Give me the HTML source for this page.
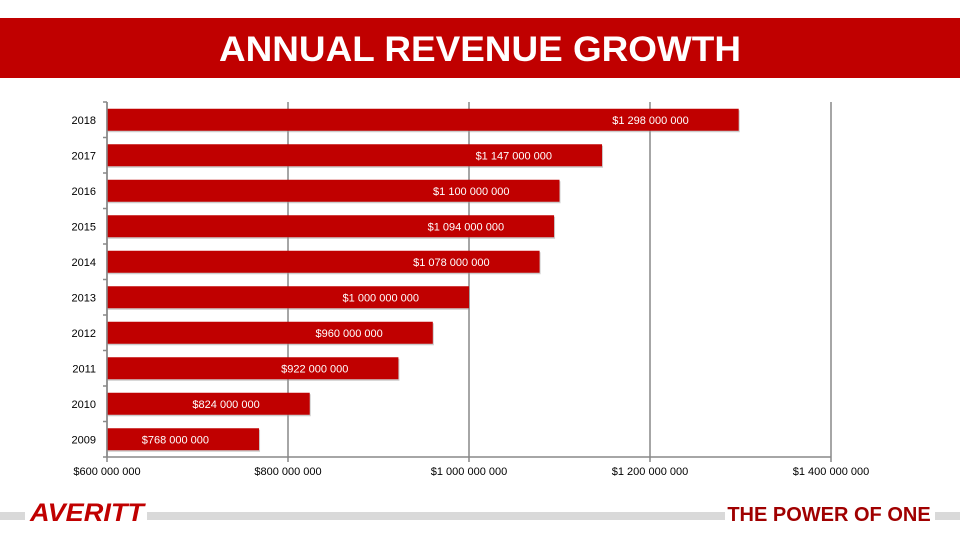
<!DOCTYPE html>
<html><head><meta charset="utf-8"><style>
body{margin:0;width:960px;height:540px;background:#fff;overflow:hidden;font-family:"Liberation Sans",sans-serif}
</style></head><body>
<svg width="960" height="540" xmlns="http://www.w3.org/2000/svg">
<rect x="0" y="18" width="960" height="60" fill="#c00000"/>
<text x="480" y="61" text-anchor="middle" fill="#fff" font-size="35" font-weight="bold" textLength="522" lengthAdjust="spacingAndGlyphs">ANNUAL REVENUE GROWTH</text>
<g id="chart"></g>
<rect x="0" y="512" width="25" height="8" fill="#d9d9d9"/>
<rect x="147" y="512" width="578" height="8" fill="#d9d9d9"/>
<rect x="935" y="512" width="25" height="8" fill="#d9d9d9"/>
<text x="30" y="521" fill="#c00000" font-size="25" font-weight="bold" font-style="italic" textLength="114" lengthAdjust="spacingAndGlyphs">AVERITT</text>
<text x="829" y="521" text-anchor="middle" fill="#a00000" font-size="20" font-weight="bold">THE POWER OF ONE</text>
</svg>
<script>
const years=["2018","2017","2016","2015","2014","2013","2012","2011","2010","2009"];
const revenues=[1298000000,1147000000,1100000000,1094000000,1078000000,1000000000,960000000,922000000,824000000,768000000];
const valueLabels=["$1 298 000 000","$1 147 000 000","$1 100 000 000","$1 094 000 000","$1 078 000 000","$1 000 000 000","$960 000 000","$922 000 000","$824 000 000","$768 000 000"];
const ticks=[600000000,800000000,1000000000,1200000000,1400000000];
const tickLabels=["$600 000 000","$800 000 000","$1 000 000 000","$1 200 000 000","$1 400 000 000"];
const NS="http://www.w3.org/2000/svg";
const g=document.getElementById('chart');
const x0=107,x1=831,yTop=102,yBot=457;
const xs=v=>x0+(v-ticks[0])/(ticks[ticks.length-1]-ticks[0])*(x1-x0);
const band=(yBot-yTop)/years.length;
function mk(t,a){const e=document.createElementNS(NS,t);for(const k in a)e.setAttribute(k,a[k]);g.appendChild(e);return e;}
ticks.forEach((t,i)=>{
 const l=mk('line',{x1:xs(t),x2:xs(t),y1:yTop,y2:yBot+5,stroke:'#888','stroke-width':1.5});
 
 
 const tx=mk('text',{x:xs(t),y:475,'text-anchor':'middle','font-size':11,fill:'#000'});
 tx.textContent=tickLabels[i];
 
 
});
const ax=mk('line',{x1:x0,x2:x1,y1:yBot,y2:yBot,stroke:'#888','stroke-width':1.5});


for(let i=0;i<=years.length;i++){
 const tk=mk('line',{x1:x0-4,x2:x0,y1:yTop+i*band,y2:yTop+i*band,stroke:'#888','stroke-width':1.5});
 
 
}
years.forEach((yr,i)=>{
 const cy=yTop+band*i+band/2;
 const w=xs(revenues[i])-x0;
 const sh=mk('rect',{x:x0+1,y:cy-11+1.5,width:w,height:22,fill:'#999',opacity:0.5});
 
 
 const b=mk('rect',{x:x0,y:cy-11,width:w,height:22,fill:'#c00000'});
 
 
 const lb=mk('text',{x:xs(revenues[i])-50,y:cy+4,'text-anchor':'end','font-size':11,fill:'#fff'});
 lb.textContent=valueLabels[i];
 
 
 const yl=mk('text',{x:96,y:cy+4,'text-anchor':'end','font-size':11,fill:'#000'});
 yl.textContent=yr;
 
 
});
const yax=mk('line',{x1:x0,x2:x0,y1:yTop,y2:yBot,stroke:'#888','stroke-width':1.5});


</script>
</body></html>
